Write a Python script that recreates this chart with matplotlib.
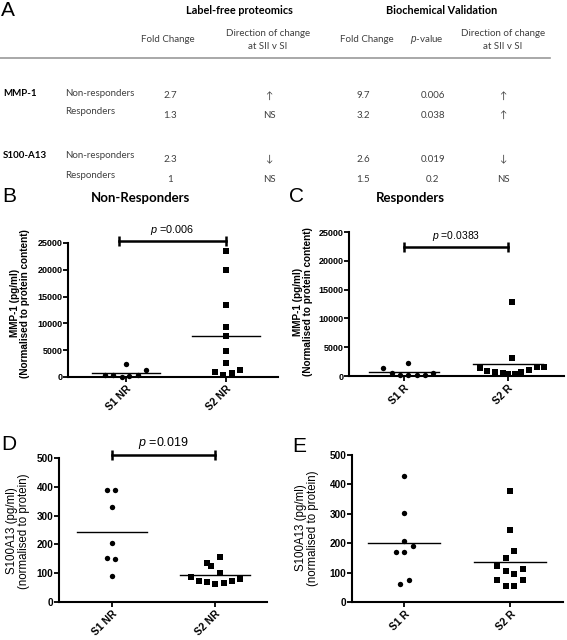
import matplotlib
matplotlib.use("Agg")
import matplotlib.pyplot as plt
import numpy as np

plt.rcParams.update({
    'font.family': ['Liberation Sans', 'DejaVu Sans'],
    'mathtext.fontset': 'custom',
    'mathtext.it': 'Liberation Sans:italic',
    'mathtext.rm': 'Liberation Sans',
})

W, H = 567, 640

# ---- panel A table ----
proteins = ["MMP-1", "S100-A13"]
groups = ["Non-responders", "Responders"]
lf_fold = ["2.7", "1.3", "2.3", "1"]
lf_dir = ["↑", "NS", "↓", "NS"]
bv_fold = ["9.7", "3.2", "2.6", "1.5"]
bv_p = ["0.006", "0.038", "0.019", "0.2"]
bv_dir = ["↑", "↑", "↓", "NS"]

# ---- scatter panels ----
b_s1 = [370, 310, 50, 250, 310, 2400, 1300]
b_s1_dx = [-0.21, -0.13, -0.04, 0.03, 0.12, 0.0, 0.2]
b_s2 = [23450, 20000, 13370, 9330, 7590, 4850, 2610, 930, 370, 690, 1240]
b_s2_dx = [0, 0, 0, 0, 0, 0, 0, -0.11, -0.03, 0.06, 0.14]

c_s1 = [1330, 2310, 460, 150, 150, 150, 150, 460]
c_s1_dx = [-0.2, 0.035, -0.115, -0.04, 0.04, 0.12, 0.2, 0.28]
c_s2 = [1450, 870, 750, 580, 290, 400, 690, 980, 1560, 1560, 3070, 12800]
c_s2_dx = [-0.27, -0.2, -0.125, -0.05, 0.0, 0.07, 0.13, 0.2, 0.28, 0.35, 0.035, 0.035]

d_s1 = [389, 389, 331, 204, 154, 150, 91]
d_s1_dx = [-0.05, 0.03, 0, 0, -0.05, 0.03, 0]
d_s2 = [134, 126, 157, 102, 88, 74, 68, 62, 66, 73, 81]
d_s2_dx = [-0.08, -0.04, 0.04, 0.04, -0.24, -0.16, -0.08, 0, 0.08, 0.16, 0.24]

e_s1 = [427, 303, 207, 169, 169, 189, 62, 74]
e_s1_dx = [0, 0, 0, -0.08, 0, 0.08, -0.04, 0.04]
e_s2 = [377, 246, 173, 150, 121, 104, 96, 113, 76, 76, 54, 54]
e_s2_dx = [0, 0, 0.04, -0.04, -0.12, -0.04, 0.04, 0.12, -0.12, 0.12, -0.04, 0.04]

nr_labels = ["S1 NR", "S2 NR"]
r_labels = ["S1 R", "S2 R"]

fig = plt.figure(figsize=(W / 100, H / 100), dpi=100)


def px(x, y):
    return x / W, 1 - y / H


# table header
hdr = dict(family=['Lato', 'DejaVu Sans'], ha='center', va='center')
body = dict(family=['Lato', 'DejaVu Sans'], ha='center', va='center',
            fontsize=7, color='#404040')
fig.text(*px(8, 11), "A", fontsize=15, ha='center', va='center')
fig.text(*px(239, 10), "Label-free proteomics", fontsize=7.8,
         fontweight='bold', **hdr)
fig.text(*px(442, 10), "Biochemical Validation", fontsize=7.8,
         fontweight='bold', **hdr)
fig.text(*px(168, 40), "Fold Change", **body)
fig.text(*px(268, 40), "Direction of change\nat SII v SI", linespacing=1.6, **body)
fig.text(*px(367, 40), "Fold Change", **body)
fig.text(*px(427, 40), r"$\mathit{p}$-value", **body)
fig.text(*px(503, 40), "Direction of change\nat SII v SI", linespacing=1.6, **body)
fig.add_artist(plt.Line2D([0.0, 550 / W], [1 - 58 / H] * 2, color='#9a9a9a', lw=1.2))

row_y = [93, 112, 156, 176]
for i in range(4):
    y = row_y[i]
    if i % 2 == 0:
        fig.text(*px(3, y), proteins[i // 2], family=['Lato', 'DejaVu Sans'],
                 fontsize=7, fontweight='bold', ha='left', va='center')
    fig.text(*px(65, y), groups[i % 2], family=['Lato', 'DejaVu Sans'],
             fontsize=7, color='#404040', ha='left', va='center')
    fig.text(*px(170, y + 3), lf_fold[i], **body)
    fig.text(*px(269, y + 3), lf_dir[i], **body)
    fig.text(*px(363, y + 3), bv_fold[i], **body)
    fig.text(*px(433, y + 3), bv_p[i], **body)
    fig.text(*px(503, y + 3), bv_dir[i], **body)


def make_ax(left, right, zero, top, xlim, ymax, yticks, ylabel, xlabels,
            s1, s1_dx, s2, s2_dx, tick_fs, label_fs, label_bold, label_xy):
    ax = fig.add_axes([left / W, 1 - zero / H, (right - left) / W, (zero - top) / H])
    ax.set_xlim(*xlim)
    ax.set_ylim(0, ymax)
    for sp in ['top', 'right']:
        ax.spines[sp].set_visible(False)
    for sp in ['left', 'bottom']:
        ax.spines[sp].set_linewidth(1.5)
    ax.set_yticks(yticks)
    ax.set_yticklabels([str(t) for t in yticks], fontsize=tick_fs, fontweight='bold')
    ax.set_xticks([0, 1])
    ax.set_xticklabels(xlabels, fontsize=7.5, fontweight='bold', rotation=45,
                       ha='right', rotation_mode='anchor')
    ax.tick_params(axis='y', length=3.5, width=1.3, pad=0.5)
    ax.tick_params(axis='x', length=3.5, width=1.3, pad=1.5)
    ax.scatter(np.array(s1_dx), s1, marker='o', s=15, color='black',
               linewidths=0, clip_on=False, zorder=3)
    ax.scatter(1 + np.array(s2_dx), s2, marker='s', s=13, color='black',
               linewidths=0, clip_on=False, zorder=3)
    for xc, vals in [(0, s1), (1, s2)]:
        m = np.mean(vals)
        ax.plot([xc - 0.34, xc + 0.34], [m, m], color='black', lw=1.0, zorder=2)
    ax.text(label_xy[0], label_xy[1], ylabel, transform=ax.transAxes,
            rotation=90, ha='center', va='center', fontsize=label_fs,
            fontweight='bold' if label_bold else 'normal', linespacing=0.95,
            multialignment='center')
    return ax


def sig_bar(ax, x0, x1, y, text, fs):
    ax.plot([x0, x1], [y, y], color='black', lw=1.8, marker='|',
            markersize=7, mew=1.8, clip_on=False)
    ax.annotate(r"$p$ =" + text, xy=((x0 + x1) / 2, y), xytext=(0, 3),
                textcoords='offset points', ha='center', va='bottom',
                fontsize=fs, annotation_clip=False)


mmp_ticks = [0, 5000, 10000, 15000, 20000, 25000]
s100_ticks = [0, 100, 200, 300, 400, 500]

axB = make_ax(68, 278, 377, 243, (-0.58, 1.52), 25000, mmp_ticks,
              "MMP-1 (pg/ml)\n(Normalised to protein content)", nr_labels,
              b_s1, b_s1_dx, b_s2, b_s2_dx, 6.5, 7.2, True, (-0.229, 0.55))
sig_bar(axB, -0.07, 1.0, 25400, "0.006", 7.8)

axC = make_ax(349, 564, 376, 232, (-0.53, 1.54), 25000, mmp_ticks,
              "MMP-1 (pg/ml)\n(Normalised to protein content)", r_labels,
              c_s1, c_s1_dx, c_s2, c_s2_dx, 6.5, 7.2, True, (-0.214, 0.514))
sig_bar(axC, 0.0, 1.0, 22450, "0.0383", 7.5)

axD = make_ax(59, 267, 602, 458, (-0.515, 1.50), 500, s100_ticks,
              "S100A13 (pg/ml)\n(normalised to protein)", nr_labels,
              d_s1, d_s1_dx, d_s2, d_s2_dx, 7.2, 8.3, False, (-0.197, 0.493))
sig_bar(axD, 0.0, 1.0, 510, "0.019", 9)

axE = make_ax(352, 563, 602, 455, (-0.495, 1.50), 500, s100_ticks,
              "S100A13 (pg/ml)\n(normalised to protein)", r_labels,
              e_s1, e_s1_dx, e_s2, e_s2_dx, 7.2, 8.3, False, (-0.213, 0.503))

# panel letters and titles
fig.text(*px(9, 197), "B", fontsize=15, ha='center', va='center')
fig.text(*px(297, 197), "C", fontsize=15, ha='center', va='center')
fig.text(*px(9, 444), "D", fontsize=15, ha='center', va='center')
fig.text(*px(299, 446), "E", fontsize=15, ha='center', va='center')
fig.text(*px(141, 198), "Non-Responders", family=['Lato', 'DejaVu Sans'],
         fontsize=9.5, fontweight='bold', ha='center', va='center')
fig.text(*px(410, 198), "Responders", family=['Lato', 'DejaVu Sans'],
         fontsize=9.5, fontweight='bold', ha='center', va='center')

fig.savefig("out.png", dpi=100)
